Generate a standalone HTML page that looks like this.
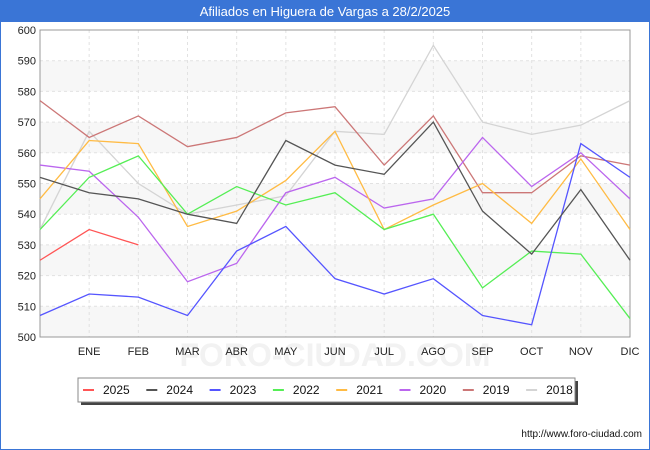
<!DOCTYPE html>
<html><head><meta charset="utf-8"><style>
body{margin:0;background:#fff;font-family:"Liberation Sans",sans-serif}
#wrap{position:relative;width:648px;height:448px;border:1px solid #3a75d6;background:#fff}
#title{position:absolute;left:0;top:0;width:648px;height:21px;background:#3a75d6;color:#fff;font-size:13px;text-align:center;line-height:21px}
</style></head><body>
<div id="wrap">
<div id="title">Afiliados en Higuera de Vargas a 28/2/2025</div>
<svg id="chart" width="650" height="450" style="position:absolute;left:-1px;top:-1px"></svg>
</div>
<script>
const months=["","ENE","FEB","MAR","ABR","MAY","JUN","JUL","AGO","SEP","OCT","NOV","DIC"];
const yTicks=[500,510,520,530,540,550,560,570,580,590,600];
const seriesNames=["2025","2024","2023","2022","2021","2020","2019","2018"];
const colors=["#ff5555","#555555","#5555ff","#55ee55","#ffbb44","#bb66ee","#cc7777","#d4d4d4"];
const s2025=[525,535,530];
const s2024=[552,547,545,540,537,564,556,553,570,541,527,548,525];
const s2023=[507,514,513,507,528,536,519,514,519,507,504,563,552];
const s2022=[535,552,559,540,549,543,547,535,540,516,528,527,506];
const s2021=[545,564,563,536,541,551,567,535,543,550,537,558,535];
const s2020=[556,554,539,518,524,547,552,542,545,565,549,560,545];
const s2019=[577,565,572,562,565,573,575,556,572,547,547,559,556];
const s2018=[535,567,550,540,543,546,567,566,595,570,566,569,577];
const allSeries=[s2025,s2024,s2023,s2022,s2021,s2020,s2019,s2018];
const L=40,R=630,T=30,B=337,NS="http://www.w3.org/2000/svg";
const x=i=>L+i*(R-L)/12;
const y=v=>B-(v-500)*(B-T)/100;
const svg=document.getElementById('chart');
function mk(t,a){const e=document.createElementNS(NS,t);for(const k in a)e.setAttribute(k,a[k]);svg.appendChild(e);return e;}
for(let i=0;i<yTicks.length-1;i+=2){
 const r=mk('rect',{x:L,y:y(yTicks[i+1]),width:R-L,height:y(yTicks[i])-y(yTicks[i+1]),fill:'#f7f7f7'});
 
 
}
const wm=mk('text',{x:335,y:366,'text-anchor':'middle','font-size':32,fill:'#f2f2f2','font-weight':'bold'});wm.textContent='FORO-CIUDAD.COM';


yTicks.forEach(v=>{
 const l=mk('line',{x1:L,x2:R,y1:y(v),y2:y(v),stroke:'#e2e2e2','stroke-dasharray':'3,3'});
 
 
 const t=mk('text',{x:L-4,y:y(v)+4,'text-anchor':'end','font-size':11,fill:'#222'});t.textContent=v;
 
 
});
months.forEach((m,i)=>{
 if(i>0){const l=mk('line',{x1:x(i),x2:x(i),y1:T,y2:B,stroke:'#e2e2e2','stroke-dasharray':'3,3'});
 
 }
 const t=mk('text',{x:x(i),y:B+18,'text-anchor':'middle','font-size':11,fill:'#222'});t.textContent=m;
 
 
});
const fr=mk('rect',{x:L,y:T,width:R-L,height:B-T,fill:'none',stroke:'#999'});


for(let s=allSeries.length-1;s>=0;s--){
 const p=mk('polyline',{points:allSeries[s].map((v,i)=>x(i)+','+y(v)).join(' '),fill:'none',stroke:colors[s],'stroke-width':1.3});
 
 
}
const sh=mk('rect',{x:81,y:381,width:497,height:24,fill:'#444'});


const lb=mk('rect',{x:78,y:378,width:497,height:24,fill:'#fff',stroke:'#888'});


seriesNames.forEach((n,i)=>{
 const lx=83+i*63.3;
 const l=mk('line',{x1:lx,x2:lx+11,y1:390,y2:390,stroke:colors[i],'stroke-width':2});
 
 
 const t=mk('text',{x:lx+20,y:394,'font-size':12,fill:'#111'});t.textContent=n;
 
 
});
const u=mk('text',{x:642,y:437,'text-anchor':'end','font-size':10,fill:'#111'});u.textContent='http://www.foro-ciudad.com';


</script>
</body></html>
